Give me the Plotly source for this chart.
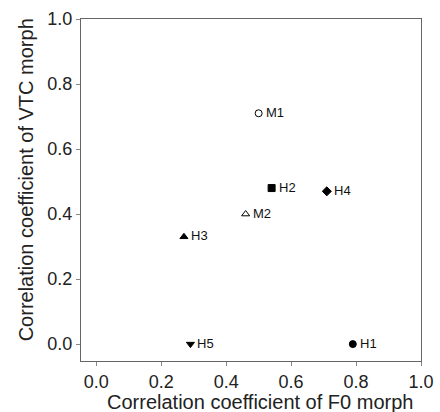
import plotly.graph_objects as go

labels = ["M1", "H2", "H4", "M2", "H3", "H5", "H1"]
f0_corr = [0.50, 0.54, 0.71, 0.46, 0.27, 0.29, 0.79]
vtc_corr = [0.71, 0.48, 0.47, 0.40, 0.33, 0.00, 0.00]
symbols = ["circle-open", "square", "diamond", "triangle-up-open", "triangle-up", "triangle-down", "circle"]
tick_vals = [0.0, 0.2, 0.4, 0.6, 0.8, 1.0]
tick_text = ["0.0", "0.2", "0.4", "0.6", "0.8", "1.0"]
x_title = "Correlation coefficient of F0 morph"
y_title = "Correlation coefficient of VTC morph"

FONT = "Liberation Sans, Arial, sans-serif"

fig = go.Figure()
fig.add_trace(go.Scatter(
    x=f0_corr, y=vtc_corr, mode="markers",
    marker=dict(symbol=symbols, size=7, color="black", line=dict(color="black", width=1)),
    cliponaxis=False, showlegend=False, hoverinfo="skip",
))
for lx, ly, lab in zip(f0_corr, vtc_corr, labels):
    fig.add_annotation(x=lx, y=ly, text=lab, xanchor="left", yanchor="middle",
                       xshift=5, yshift=1, showarrow=False,
                       font=dict(size=13, color="#111", family=FONT))

axis_common = dict(
    showgrid=False, zeroline=False, showline=True, mirror=True, automargin=False,
    linecolor="#666", linewidth=1, ticks="outside", ticklen=4, tickcolor="#888",
    tickvals=tick_vals, ticktext=tick_text,
    tickfont=dict(size=18, color="#222", family=FONT),
)
fig.update_xaxes(range=[-0.047, 1.0], **axis_common)
fig.update_yaxes(range=[-0.052, 1.0], **axis_common)

fig.add_annotation(text=x_title, xref="paper", yref="paper", x=0.526, y=-0.12,
                   xanchor="center", yanchor="middle", showarrow=False,
                   font=dict(size=20, color="#222", family=FONT))
fig.add_annotation(text=y_title, xref="paper", yref="paper", x=-0.161, y=0.529,
                   xanchor="center", yanchor="middle", showarrow=False, textangle=-90,
                   font=dict(size=20, color="#222", family=FONT))

fig.update_layout(
    width=440, height=412, margin=dict(l=81, r=19, t=19, b=51),
    plot_bgcolor="white", paper_bgcolor="white",
)
fig.write_html("out.html", config={"displayModeBar": False},
               post_script="document.body.style.margin='0';document.body.style.overflow='hidden';")
